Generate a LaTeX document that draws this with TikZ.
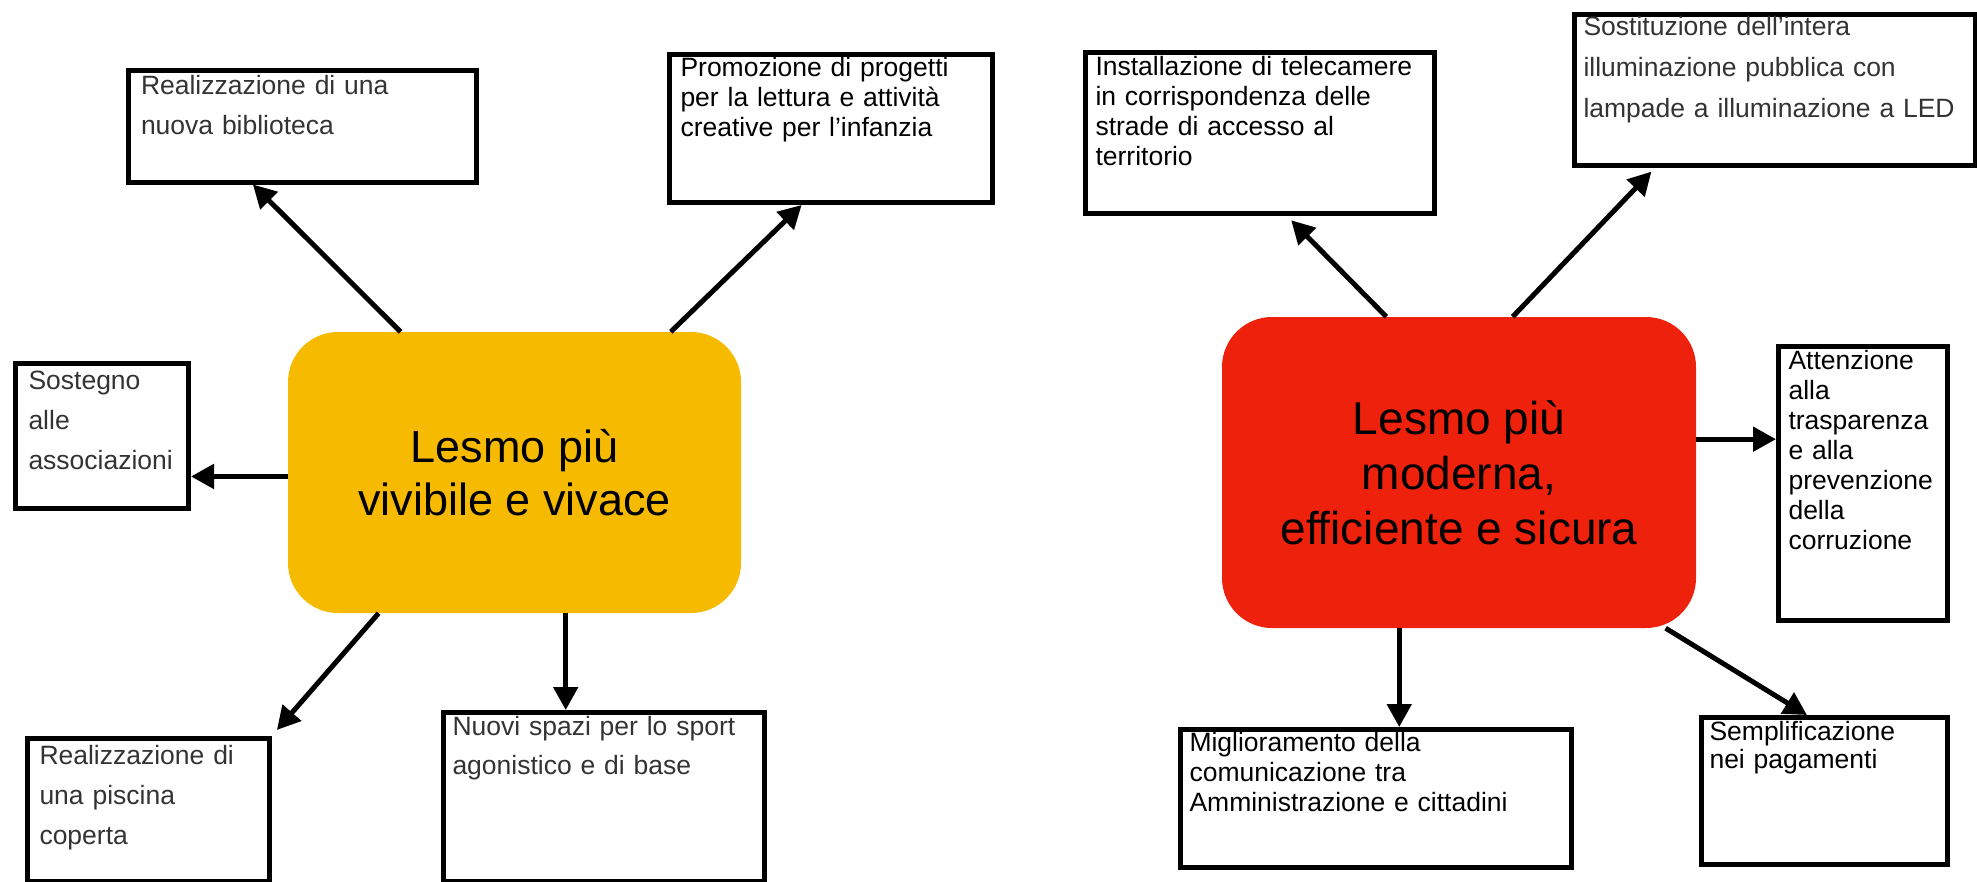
\documentclass[tikz,border=0pt]{standalone}
\usepackage{fontspec}
\setmainfont{Liberation Sans}
\usetikzlibrary{arrows.meta}
\definecolor{hubyellow}{RGB}{246,187,0}
\definecolor{hubred}{RGB}{238,34,12}
\definecolor{textgray}{RGB}{51,51,51}
\tikzstyle{hub}=[rounded corners=50pt,inner sep=0pt,align=center,text=black]
\tikzstyle{leaf}=[draw,line width=5pt,anchor=north west,inner ysep=0pt,align=left]
\tikzstyle{loose}=[font=\fontsize{26.5}{40}\selectfont,text=textgray]
\tikzstyle{tight}=[font=\fontsize{26.5}{30}\selectfont,text=black]
\tikzstyle{edge} = [draw,line width=5pt,-{Triangle[length=23pt,width=24pt]}]

\begin{document}
\begin{tikzpicture}[x=1pt,y=-1pt]
    \useasboundingbox (0,0) rectangle (1977,881);

    % the two central themes
    \node[hub,fill=hubyellow,minimum width=453pt,minimum height=281pt,font=\fontsize{45}{53}\selectfont] (viv) at (514.5,472.5) {Lesmo più\\vivibile e vivace};
    \node[hub,fill=hubred,minimum width=474pt,minimum height=311pt,font=\fontsize{46}{55}\selectfont] (mod) at (1459,472.5) {Lesmo più\\moderna,\\efficiente e sicura};

    % boxes around the yellow theme
    \node[leaf,loose,inner xsep=13pt,text width=322pt,text height=24pt,text depth=88pt] (bib) at (125.5,67.5) {Realizzazione di una\\nuova biblioteca};
    \node[leaf,tight,inner xsep=11pt,text width=301pt,text height=22pt,text depth=126pt] (prom) at (667,52) {Promozione di progetti\\per la lettura e attività\\creative per l’infanzia};
    \node[leaf,loose,inner xsep=13pt,text width=147pt,text height=26pt,text depth=119pt] (sos) at (13,361) {Sostegno\\alle\\associazioni};
    \node[leaf,loose,inner xsep=12pt,text width=218pt,text height=26pt,text depth=117pt] (pis) at (25,736) {Realizzazione di\\una piscina\\coperta};
    \node[leaf,loose,inner xsep=9pt,text width=303pt,text height=23pt,text depth=146pt,font=\fontsize{26.5}{39}\selectfont] (spo) at (441,710) {Nuovi spazi per lo sport\\agonistico e di base};

    % boxes around the red theme
    \node[leaf,tight,inner xsep=10pt,text width=329pt,text height=23pt,text depth=138pt] (ins) at (1083,50) {Installazione di telecamere\\in corrispondenza delle\\strade di accesso al\\territorio};
    \node[leaf,loose,inner xsep=9pt,text width=383pt,text height=21pt,text depth=130pt,font=\fontsize{26.5}{41}\selectfont] (sub) at (1572,12) {Sostituzione dell’intera\\illuminazione pubblica con\\lampade a illuminazione a LED};
    \node[leaf,tight,inner xsep=10pt,text width=149pt,text height=23pt,text depth=251pt] (att) at (1776,344) {Attenzione\\alla\\trasparenza\\e alla\\prevenzione\\della\\corruzione};
    \node[leaf,tight,inner xsep=9pt,text width=373pt,text height=22pt,text depth=116pt] (mig) at (1178,727) {Miglioramento della\\comunicazione tra\\Amministrazione e cittadini};
    \node[leaf,tight,inner xsep=8pt,text width=230pt,text height=23pt,text depth=124pt,font=\fontsize{26.5}{28}\selectfont] (sem) at (1699,715) {Semplificazione\\nei pagamenti};

    % arrows from each theme to its boxes
    \foreach \source/ \dest/ \gap in {viv.129.4/bib.230/0pt, viv.42.6/prom.249.4/0pt, viv.181/{viv.181 -| sos.east}/0pt,
        viv.226.2/pis.31/8pt, viv.290/{viv.290 |- spo.north}/0pt}
        \path[edge,shorten >=\gap] (\source) -- (\dest);
    \foreach \source/ \dest/ \gap in {mod.115.9/ins.288.4/6pt, mod.71.4/sub.213.9/5pt, mod.8.5/{mod.8.5 -| att.west}/0pt,
        mod.249/{mod.249 |- mig.north}/0pt, mod.323.6/sem.103.4/0pt}
        \path[edge,shorten >=\gap] (\source) -- (\dest);

\end{tikzpicture}
\end{document}
